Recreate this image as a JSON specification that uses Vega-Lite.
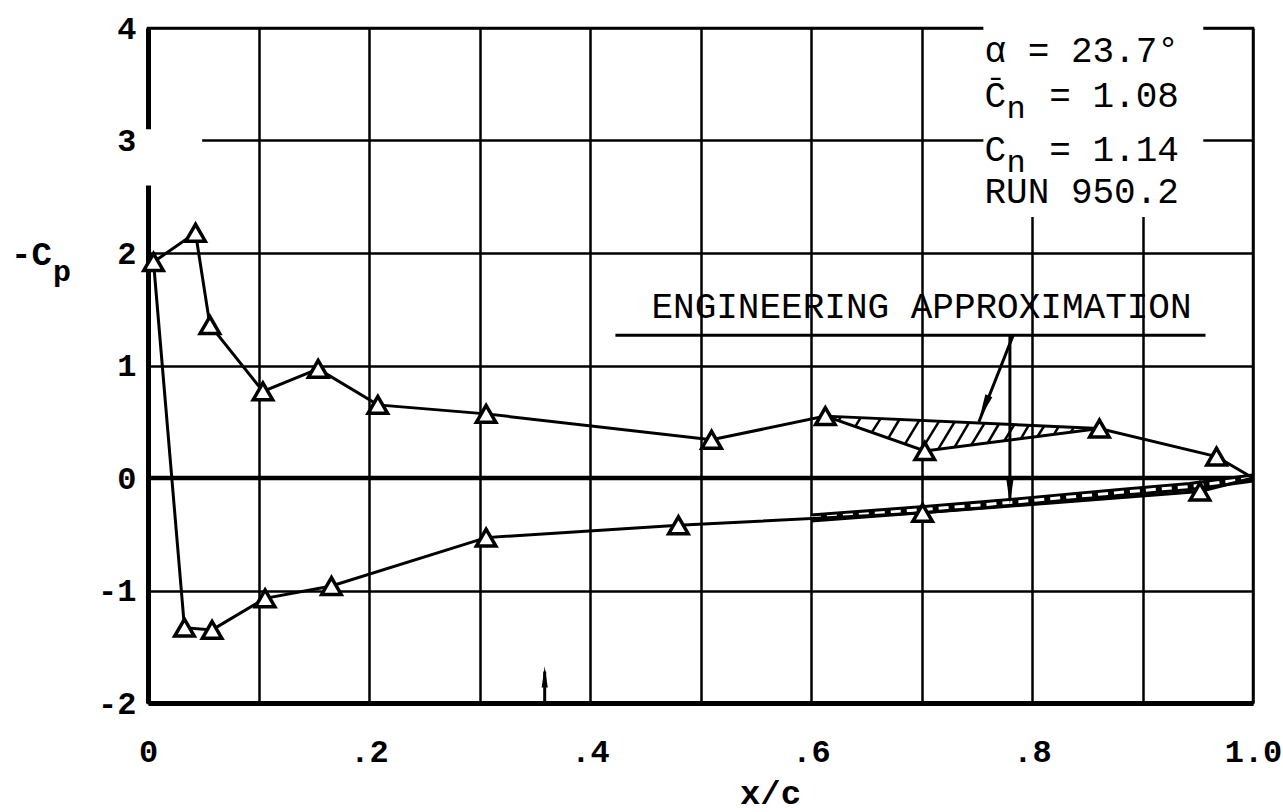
{
  "$schema": "https://vega.github.io/schema/vega-lite/v6.json",
  "width": 1105,
  "height": 675,
  "autosize": {"type": "none"},
  "padding": {"left": 148, "top": 28, "right": 30, "bottom": 109},
  "background": "white",
  "config": {
    "view": {"stroke": "black", "strokeWidth": 2.5},
    "axis": {
      "gridColor": "black", "gridOpacity": 1, "gridWidth": 2.5,
      "domainColor": "black", "domainWidth": 5,
      "ticks": false, "tickSize": 0,
      "labelColor": "black", "labelFont": "Liberation Mono", "labelFontSize": 32, "labelFontWeight": "bold",
      "titleFont": "Liberation Mono", "titleColor": "black"
    }
  },
  "datasets": {
    "cp": [
      {"surface": "upper", "i": 0, "x": 0.005, "y": 1.92, "measured": true},
      {"surface": "upper", "i": 1, "x": 0.043, "y": 2.18, "measured": true},
      {"surface": "upper", "i": 2, "x": 0.056, "y": 1.36, "measured": true},
      {"surface": "upper", "i": 3, "x": 0.104, "y": 0.77, "measured": true},
      {"surface": "upper", "i": 4, "x": 0.154, "y": 0.97, "measured": true},
      {"surface": "upper", "i": 5, "x": 0.208, "y": 0.65, "measured": true},
      {"surface": "upper", "i": 6, "x": 0.306, "y": 0.57, "measured": true},
      {"surface": "upper", "i": 7, "x": 0.510, "y": 0.34, "measured": true},
      {"surface": "upper", "i": 8, "x": 0.613, "y": 0.55, "measured": true},
      {"surface": "upper", "i": 9, "x": 0.703, "y": 0.24, "measured": true},
      {"surface": "upper", "i": 10, "x": 0.861, "y": 0.44, "measured": true},
      {"surface": "upper", "i": 11, "x": 0.967, "y": 0.19, "measured": true},
      {"surface": "upper", "i": 12, "x": 1.0, "y": 0.0, "measured": false},
      {"surface": "lower", "i": 0, "x": 0.005, "y": 1.92, "measured": false},
      {"surface": "lower", "i": 1, "x": 0.033, "y": -1.33, "measured": true},
      {"surface": "lower", "i": 2, "x": 0.058, "y": -1.35, "measured": true},
      {"surface": "lower", "i": 3, "x": 0.106, "y": -1.07, "measured": true},
      {"surface": "lower", "i": 4, "x": 0.166, "y": -0.96, "measured": true},
      {"surface": "lower", "i": 5, "x": 0.306, "y": -0.53, "measured": true},
      {"surface": "lower", "i": 6, "x": 0.480, "y": -0.42, "measured": true},
      {"surface": "lower", "i": 7, "x": 0.701, "y": -0.31, "measured": true},
      {"surface": "lower", "i": 8, "x": 0.952, "y": -0.12, "measured": true},
      {"surface": "lower", "i": 9, "x": 1.0, "y": 0.0, "measured": false}
    ],
    "approxLower": [
      {"x": 0.600, "y": -0.355},
      {"x": 0.703, "y": -0.28},
      {"x": 0.783, "y": -0.215},
      {"x": 0.877, "y": -0.13},
      {"x": 0.943, "y": -0.075},
      {"x": 1.0, "y": 0.0}
    ],
    "masks": [
      {"x": 0.756, "x2": 0.955, "y": 2.32, "y2": 4.03},
      {"x": -0.012, "x2": 0.049, "y": 2.6, "y2": 3.1}
    ],
    "segments": [
      {"kind": "zero", "x": 0, "y": 0, "x2": 1, "y2": 0},
      {"kind": "approx", "x": 0.613, "y": 0.55, "x2": 0.861, "y2": 0.44},
      {"kind": "underline", "x": 0.423, "y": 1.27, "x2": 0.957, "y2": 1.27},
      {"kind": "leader", "x": 0.780, "y": 1.27, "x2": 0.780, "y2": -0.2},
      {"kind": "leader", "x": 0.783, "y": 1.27, "x2": 0.752, "y2": 0.5},
      {"kind": "leader", "x": 0.359, "y": -2.0, "x2": 0.359, "y2": -1.72},
      {"kind": "hatch", "x": 0.625, "y": 0.509, "x2": 0.627, "y2": 0.544},
      {"kind": "hatch", "x": 0.640, "y": 0.457, "x2": 0.645, "y2": 0.536},
      {"kind": "hatch", "x": 0.655, "y": 0.405, "x2": 0.663, "y2": 0.528},
      {"kind": "hatch", "x": 0.670, "y": 0.354, "x2": 0.680, "y2": 0.520},
      {"kind": "hatch", "x": 0.685, "y": 0.302, "x2": 0.698, "y2": 0.512},
      {"kind": "hatch", "x": 0.700, "y": 0.250, "x2": 0.716, "y2": 0.505},
      {"kind": "hatch", "x": 0.715, "y": 0.255, "x2": 0.730, "y2": 0.498},
      {"kind": "hatch", "x": 0.730, "y": 0.274, "x2": 0.743, "y2": 0.492},
      {"kind": "hatch", "x": 0.745, "y": 0.293, "x2": 0.757, "y2": 0.486},
      {"kind": "hatch", "x": 0.760, "y": 0.312, "x2": 0.770, "y2": 0.480},
      {"kind": "hatch", "x": 0.775, "y": 0.331, "x2": 0.784, "y2": 0.474},
      {"kind": "hatch", "x": 0.790, "y": 0.350, "x2": 0.797, "y2": 0.468},
      {"kind": "hatch", "x": 0.805, "y": 0.369, "x2": 0.811, "y2": 0.462},
      {"kind": "hatch", "x": 0.820, "y": 0.388, "x2": 0.824, "y2": 0.456},
      {"kind": "hatch", "x": 0.835, "y": 0.407, "x2": 0.838, "y2": 0.450},
      {"kind": "hatch", "x": 0.850, "y": 0.426, "x2": 0.851, "y2": 0.444}
    ],
    "arrowheads": [
      {"dir": "down", "x": 0.780, "y": -0.08},
      {"dir": "diag", "x": 0.758, "y": 0.66},
      {"dir": "up", "x": 0.359, "y": -1.8}
    ],
    "labels": [
      {"kind": "box", "text": "α = 23.7°", "x": 0.757, "y": 3.80},
      {"kind": "box", "text": "C̄\u00a0 = 1.08", "x": 0.757, "y": 3.40},
      {"kind": "box", "text": "C\u00a0 = 1.14", "x": 0.757, "y": 2.92},
      {"kind": "box", "text": "RUN 950.2", "x": 0.757, "y": 2.54},
      {"kind": "sub", "text": "n", "x": 0.777, "y": 3.29},
      {"kind": "sub", "text": "n", "x": 0.777, "y": 2.81},
      {"kind": "center", "text": "ENGINEERING APPROXIMATION", "x": 0.70, "y": 1.52},
      {"kind": "ytitle", "text": "-C", "x": -0.087, "y": 1.98},
      {"kind": "ysub", "text": "p", "x": -0.086, "y": 1.83}
    ]
  },
  "encoding": {
    "x": {
      "field": "x", "type": "quantitative",
      "scale": {"domain": [0, 1], "nice": false, "zero": false},
      "axis": {
        "values": [0, 0.1, 0.2, 0.3, 0.4, 0.5, 0.6, 0.7, 0.8, 0.9, 1.0],
        "labelExpr": "datum.value == 0 ? '0' : (datum.value == 1 ? '1.0' : (round(datum.value*10) % 2 == 0 ? '.' + round(datum.value*10) : ''))",
        "labelPadding": 33,
        "labelFlush": false,
        "labelOverlap": false,
        "title": "x/c",
        "titleFontSize": 34,
        "titleFontWeight": "bold",
        "titleX": 622,
        "titleY": 100,
        "titleAlign": "center",
        "titleBaseline": "alphabetic"
      }
    },
    "y": {
      "field": "y", "type": "quantitative",
      "scale": {"domain": [-2, 4], "nice": false, "zero": false},
      "axis": {
        "values": [-2, -1, 0, 1, 2, 3, 4],
        "labelExpr": "datum.value < 0 ? '-' + abs(datum.value) : '' + datum.value",
        "labelPadding": 12,
        "labelFlush": false,
        "labelOverlap": false,
        "title": null
      }
    }
  },
  "layer": [
    {
      "data": {"name": "masks"},
      "mark": {"type": "rect", "fill": "white", "stroke": null},
      "encoding": {"x2": {"field": "x2"}, "y2": {"field": "y2"}}
    },
    {
      "data": {"name": "segments"},
      "transform": [{"filter": "datum.kind == 'zero'"}],
      "mark": {"type": "rule", "color": "black", "strokeWidth": 4.5},
      "encoding": {"x2": {"field": "x2"}, "y2": {"field": "y2"}}
    },
    {
      "data": {"name": "segments"},
      "transform": [{"filter": "datum.kind == 'hatch'"}],
      "mark": {"type": "rule", "color": "black", "strokeWidth": 2.5},
      "encoding": {"x2": {"field": "x2"}, "y2": {"field": "y2"}}
    },
    {
      "data": {"name": "approxLower"},
      "mark": {"type": "line", "color": "black", "strokeWidth": 9},
      "encoding": {}
    },
    {
      "data": {"name": "approxLower"},
      "mark": {"type": "line", "color": "white", "strokeWidth": 3, "strokeDash": [10, 6]},
      "encoding": {}
    },
    {
      "data": {"name": "cp"},
      "mark": {"type": "line", "color": "black", "strokeWidth": 3},
      "encoding": {
        "detail": {"field": "surface"},
        "order": {"field": "i", "type": "quantitative"}
      }
    },
    {
      "data": {"name": "segments"},
      "transform": [{"filter": "datum.kind == 'approx' || datum.kind == 'leader' || datum.kind == 'underline'"}],
      "mark": {"type": "rule", "color": "black", "strokeWidth": 3},
      "encoding": {"x2": {"field": "x2"}, "y2": {"field": "y2"}}
    },
    {
      "data": {"name": "cp"},
      "transform": [{"filter": "datum.measured"}],
      "mark": {"type": "point", "shape": "triangle-up", "size": 380, "filled": true, "fill": "white", "stroke": "black", "strokeWidth": 3.5, "opacity": 1}
    },
    {
      "data": {"name": "arrowheads"},
      "transform": [{"filter": "datum.dir == 'down'"}],
      "mark": {"type": "point", "shape": "wedge", "size": 900, "filled": true, "color": "black", "opacity": 1, "angle": 180}
    },
    {
      "data": {"name": "arrowheads"},
      "transform": [{"filter": "datum.dir == 'diag'"}],
      "mark": {"type": "point", "shape": "wedge", "size": 900, "filled": true, "color": "black", "opacity": 1, "angle": 202}
    },
    {
      "data": {"name": "arrowheads"},
      "transform": [{"filter": "datum.dir == 'up'"}],
      "mark": {"type": "point", "shape": "wedge", "size": 600, "filled": true, "color": "black", "opacity": 1, "angle": 0}
    },
    {
      "data": {"name": "labels"},
      "transform": [{"filter": "datum.kind == 'box'"}],
      "mark": {"type": "text", "font": "Liberation Mono", "fontSize": 36, "align": "left", "baseline": "middle", "color": "black"},
      "encoding": {"text": {"field": "text"}}
    },
    {
      "data": {"name": "labels"},
      "transform": [{"filter": "datum.kind == 'sub'"}],
      "mark": {"type": "text", "font": "Liberation Mono", "fontSize": 32, "align": "left", "baseline": "middle", "color": "black"},
      "encoding": {"text": {"field": "text"}}
    },
    {
      "data": {"name": "labels"},
      "transform": [{"filter": "datum.kind == 'center'"}],
      "mark": {"type": "text", "font": "Liberation Mono", "fontSize": 36, "align": "center", "baseline": "middle", "color": "black"},
      "encoding": {"text": {"field": "text"}}
    },
    {
      "data": {"name": "labels"},
      "transform": [{"filter": "datum.kind == 'ytitle'"}],
      "mark": {"type": "text", "font": "Liberation Mono", "fontSize": 34, "fontWeight": "bold", "align": "right", "baseline": "middle", "color": "black"},
      "encoding": {"text": {"field": "text"}}
    },
    {
      "data": {"name": "labels"},
      "transform": [{"filter": "datum.kind == 'ysub'"}],
      "mark": {"type": "text", "font": "Liberation Mono", "fontSize": 30, "fontWeight": "bold", "align": "left", "baseline": "middle", "color": "black"},
      "encoding": {"text": {"field": "text"}}
    }
  ]
}
